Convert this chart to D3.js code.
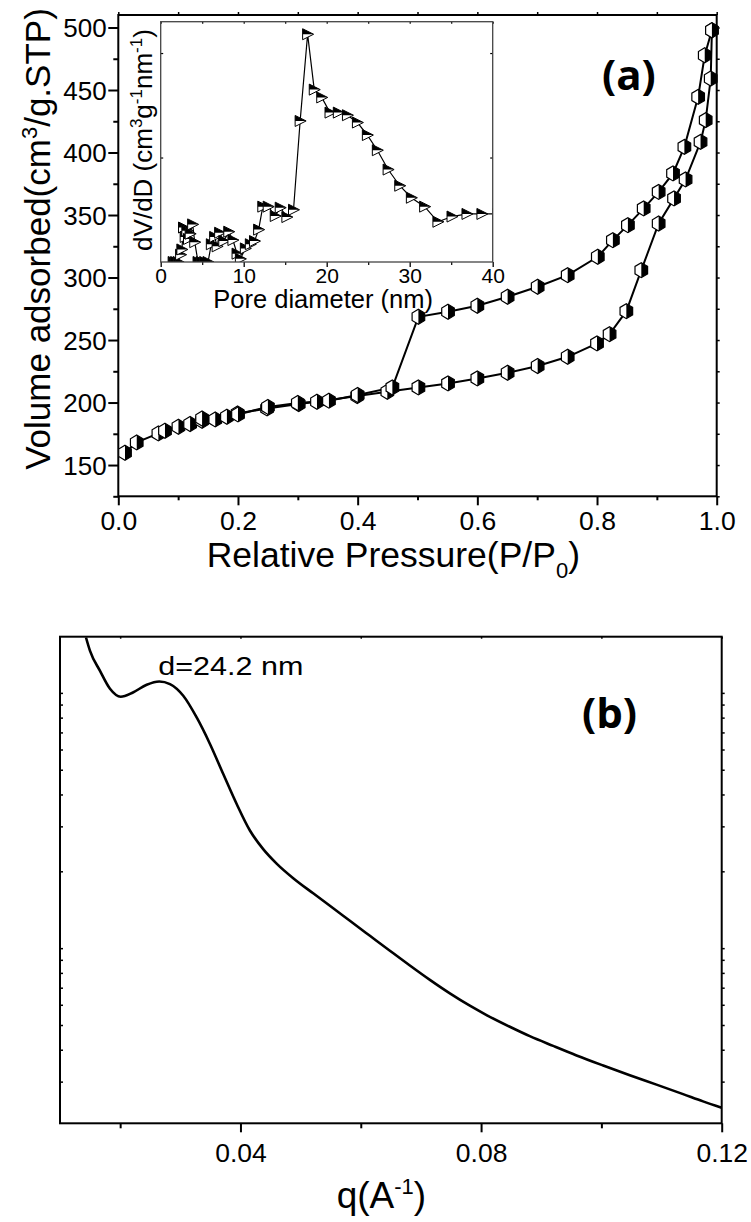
<!DOCTYPE html>
<html>
<head>
<meta charset="utf-8">
<script src="https://cdn.jsdelivr.net/npm/d3@7"></script>
<style>
  body { margin: 0; background: #fff; }
  text { font-family: "Liberation Sans", Arial, sans-serif; fill: #000; }
  .panel-tag { font-family: "Open Sans", sans-serif; font-weight: 700; }
</style>
</head>
<body>
<svg id="fig" width="751" height="1222"></svg>
<script>
// ---- N2 sorption isotherm: adsorption branch ----
const adsP = [0.0112, 0.0308, 0.067, 0.078, 0.1005, 0.12, 0.14, 0.162, 0.1815, 0.1994,
  0.2486, 0.3015, 0.332, 0.3993, 0.4496, 0.5015, 0.551, 0.600, 0.6506, 0.7008,
  0.751, 0.800, 0.821, 0.849, 0.874, 0.903, 0.9287, 0.948, 0.973, 0.9816, 0.990, 0.992];
const adsV = [159.8, 168.1, 175.3, 177.4, 180.6, 182.8, 185.4, 186.5, 188.6, 191.3,
  195.3, 198.8, 200.6, 205.2, 208.6, 212.1, 215.3, 219.3, 223.8, 229.2,
  236.6, 247.3, 254.7, 273.1, 305.9, 343.2, 363.3, 378.5, 408.5, 425.9, 459.2, 497.8];

// ---- desorption branch ----
const desP = [0.992, 0.980, 0.969, 0.946, 0.927, 0.903, 0.878, 0.8516, 0.8265, 0.8013,
  0.751, 0.7008, 0.6506, 0.600, 0.551, 0.5015, 0.458, 0.40, 0.352, 0.30, 0.25, 0.20, 0.14];
const desV = [497.8, 477.8, 444.5, 404.5, 383.3, 368.5, 355.3, 341.9, 329.9, 316.6,
  301.9, 292.6, 284.6, 277.4, 272.6, 268.6, 212.1, 206.0, 201.5, 199.6, 196.5, 190.5, 187.2];

// ---- pore size distribution (inset) ----
const poreD = [1.5, 1.8, 2.1, 2.4, 2.55, 2.75, 2.95, 3.15, 3.35, 3.55, 3.85, 4.1, 4.5, 4.9,
  5.3, 5.7, 6.1, 6.5, 6.8, 7.1, 7.6, 8.2, 8.7, 9.2, 9.6, 10.2, 10.8, 11.3, 11.8, 12.3,
  12.95, 13.8, 14.4, 15.2, 16.0, 16.8, 17.7, 18.5, 19.4, 20.4, 21.4, 22.5, 23.7, 24.9,
  26.1, 27.4, 28.8, 30.2, 31.8, 33.4, 35.1, 36.9, 38.7, 40.6];
const poreDV = [0, 0, 0, 0.07, 0.12, 0.33, 0.24, 0.30, 0.22, 0.27, 0.36, 0.19, 0, 0,
  0, 0, 0.17, 0.24, 0.15, 0.28, 0.20, 0.29, 0.21, 0.08, 0.03, 0.13, 0.17, 0.20, 0.31, 0.53,
  0.53, 0.44, 0.52, 0.43, 0.50, 1.35, 2.18, 1.65, 1.575, 1.43, 1.43, 1.405, 1.335, 1.215,
  1.07, 0.885, 0.73, 0.615, 0.53, 0.385, 0.435, 0.46, 0.46, 0.46];

// ---- SAXS profile ----
const qVals = [0.01432, 0.01499, 0.01665, 0.01831, 0.02009, 0.02213, 0.02441, 0.02650,
  0.02828, 0.03049, 0.03272, 0.03493, 0.03714, 0.03937, 0.04157, 0.04378, 0.04601,
  0.04877, 0.05209, 0.05542, 0.05819, 0.06152, 0.06484, 0.06816, 0.07149, 0.07481,
  0.07813, 0.08091, 0.08478, 0.08810, 0.09198, 0.09587, 0.1003, 0.10472, 0.10916,
  0.11358, 0.1169, 0.12];
const intensity = [164.8, 146.1, 122.0, 103.8, 96.6, 100.4, 107.6, 110.8,
  108.2, 97.4, 80.1, 63.1, 48.1, 36.7, 28.9, 24.44, 21.45,
  18.80, 16.40, 14.33, 12.80, 11.18, 9.77, 8.55, 7.51, 6.65,
  5.95, 5.47, 4.92, 4.52, 4.14, 3.80, 3.47, 3.18, 2.92,
  2.68, 2.51, 2.37];

// ---- tick values ----
const isoXTicks = [0, 0.2, 0.4, 0.6, 0.8, 1.0];
const isoXMinor = [0.1, 0.3, 0.5, 0.7, 0.9];
const isoYTicks = [150, 200, 250, 300, 350, 400, 450, 500];
const isoYMinor = [125, 175, 225, 275, 325, 375, 425, 475];
const poreXTicks = [0, 10, 20, 30, 40];
const poreXMinor = [5, 15, 25, 35];
const poreYTicks = [1, 2];
const saxsXTicks = [0.04, 0.08, 0.12];
const saxsXMinor = [0.02, 0.06, 0.10];
const saxsYTicks = [3, 4, 5, 6, 7, 8, 9, 10, 20, 30, 40, 50, 60, 70, 80, 90, 100];

const svg = d3.select("#fig");

// strip the domain path, set tick weight; unlabeled axes lose their empty texts
function styleAxis(g, width, labeled) {
  g.select(".domain").remove();
  g.selectAll(".tick line").attr("stroke", "#000").attr("stroke-width", width);
  if (!labeled) g.selectAll(".tick text").remove();
  return g;
}
function ticksOnly(axis, values, size) {
  return axis.tickValues(values).tickSize(size).tickFormat("");
}

const hexFull = "M0,-7.5L6.3,-3.7L6.3,3.7L0,7.5L-6.3,3.7L-6.3,-3.7Z";
const hexHalf = "M0,-7.5L6.3,-3.7L6.3,3.7L0,7.5Z";

// =============== panel (a) : isotherm ===============
const A = { l: 118.3, r: 716.7, t: 15, b: 496.3 };
const xA = d3.scaleLinear().domain([0, 1]).range([A.l, A.r]);
const yA = d3.scaleLinear().domain([125, 510]).range([A.b, A.t]);

styleAxis(svg.append("g").attr("transform", `translate(0,${A.b})`)
  .call(d3.axisBottom(xA).tickValues(isoXTicks).tickSize(9).tickFormat(d3.format(".1f"))), 2, true)
  .selectAll("text").attr("y", 33.5).attr("dy", 0).style("font-size", "26.5px");
styleAxis(svg.append("g").attr("transform", `translate(0,${A.b})`)
  .call(ticksOnly(d3.axisBottom(xA), isoXMinor, 4)), 2);
styleAxis(svg.append("g").attr("transform", `translate(0,${A.t})`)
  .call(ticksOnly(d3.axisTop(xA), isoXTicks.concat(isoXMinor), 3)), 1.5);
styleAxis(svg.append("g").attr("transform", `translate(${A.l},0)`)
  .call(d3.axisLeft(yA).tickValues(isoYTicks).tickSize(10)), 2, true)
  .selectAll("text").attr("x", -11.6).attr("dy", "0.35em").style("font-size", "26px");
styleAxis(svg.append("g").attr("transform", `translate(${A.l},0)`)
  .call(ticksOnly(d3.axisLeft(yA), isoYMinor, 5)), 2);
styleAxis(svg.append("g").attr("transform", `translate(${A.r},0)`)
  .call(ticksOnly(d3.axisRight(yA), isoYTicks.concat(isoYMinor), 3)), 1.5);

svg.append("rect").attr("x", A.l).attr("y", A.t).attr("width", A.r - A.l).attr("height", A.b - A.t)
  .attr("fill", "none").attr("stroke", "#000").attr("stroke-width", 2);

const xTitle = svg.append("text").attr("x", 206.7).attr("y", 567).style("font-size", "35.5px");
xTitle.append("tspan").text("Relative Pressure(P/P");
xTitle.append("tspan").attr("dy", 11).style("font-size", "22px").text("0");
xTitle.append("tspan").attr("dy", -11).text(")");

const yTitle = svg.append("text")
  .attr("transform", "translate(50,239) rotate(-90)")
  .attr("text-anchor", "middle").style("font-size", "35px");
yTitle.append("tspan").text("Volume adsorbed(cm");
yTitle.append("tspan").attr("dy", -13).style("font-size", "22px").text("3");
yTitle.append("tspan").attr("dy", 13).text("/g.STP)");

const lineA = d3.line().x(d => xA(d[0])).y(d => yA(d[1]));
const adsPts = adsP.map((p, i) => [p, adsV[i]]);
const desPts = desP.map((p, i) => [p, desV[i]]);
svg.append("path").attr("d", lineA(adsPts)).attr("fill", "none")
  .attr("stroke", "#000").attr("stroke-width", 2);
svg.append("path").attr("d", lineA(desPts)).attr("fill", "none")
  .attr("stroke", "#000").attr("stroke-width", 2);

function drawHex(pts) {
  const g = svg.append("g");
  const m = g.selectAll("g").data(pts).join("g")
    .attr("transform", d => `translate(${xA(d[0])},${yA(d[1])})`);
  m.append("path").attr("d", hexFull).attr("fill", "#fff");
  m.append("path").attr("d", hexHalf).attr("fill", "#000");
  m.append("path").attr("d", hexFull).attr("fill", "none").attr("stroke", "#000").attr("stroke-width", 1.2);
}
drawHex(adsPts);
drawHex(desPts);

svg.append("text").attr("class", "panel-tag").attr("x", 602).attr("y", 90)
  .style("font-size", "42px").text("(a)");

// =============== inset : pore size distribution ===============
const I = { l: 160.7, r: 492.7, t: 21.7, b: 262 };
const xI = d3.scaleLinear().domain([0, 40]).range([I.l, I.r]);
const yI = d3.scaleLinear().domain([0, 2.3]).range([I.b, I.t]);

svg.append("rect").attr("x", I.l).attr("y", I.t).attr("width", I.r - I.l).attr("height", I.b - I.t)
  .attr("fill", "#fff");

svg.append("clipPath").attr("id", "insetClip").append("rect")
  .attr("x", I.l).attr("y", I.t).attr("width", I.r - I.l).attr("height", I.b - I.t);

const inset = svg.append("g").attr("clip-path", "url(#insetClip)");
const porePts = poreD.map((d, i) => [d, poreDV[i]]);
inset.append("path")
  .attr("d", d3.line().x(d => xI(d[0])).y(d => yI(d[1]))(porePts))
  .attr("fill", "none").attr("stroke", "#000").attr("stroke-width", 1.2);
const tri = inset.selectAll("g.tri").data(porePts).join("g").attr("class", "tri")
  .attr("transform", d => `translate(${xI(d[0])},${yI(d[1])})`);
tri.append("path").attr("d", "M-5,-5.5L6,0L-5,5.5Z").attr("fill", "#fff");
tri.append("path").attr("d", "M-5,-5.5L6,0L-5,0Z").attr("fill", "#000");
tri.append("path").attr("d", "M-5,-5.5L6,0L-5,5.5Z").attr("fill", "none")
  .attr("stroke", "#000").attr("stroke-width", 1);

styleAxis(svg.append("g").attr("transform", `translate(0,${I.b})`)
  .call(d3.axisBottom(xI).tickValues(poreXTicks).tickSize(5)), 1.3, true)
  .selectAll("text").attr("y", 21.3).attr("dy", 0).style("font-size", "21px");
styleAxis(svg.append("g").attr("transform", `translate(0,${I.b})`)
  .call(ticksOnly(d3.axisBottom(xI), poreXMinor, 3)), 1.2);
styleAxis(svg.append("g").attr("transform", `translate(0,${I.t})`)
  .call(ticksOnly(d3.axisBottom(xI), poreXTicks.concat(poreXMinor), 2)), 1.2);
styleAxis(svg.append("g").attr("transform", `translate(${I.l},0)`)
  .call(ticksOnly(d3.axisRight(yI), poreYTicks, 2.5)), 1.2);
styleAxis(svg.append("g").attr("transform", `translate(${I.r},0)`)
  .call(ticksOnly(d3.axisLeft(yI), poreYTicks, 2.5)), 1.2);

svg.append("rect").attr("x", I.l).attr("y", I.t).attr("width", I.r - I.l).attr("height", I.b - I.t)
  .attr("fill", "none").attr("stroke", "#444").attr("stroke-width", 1.3);

svg.append("text").attr("x", 213.3).attr("y", 308.3).style("font-size", "25.5px")
  .text("Pore diameter (nm)");

const iyTitle = svg.append("text")
  .attr("transform", "translate(152,140) rotate(-90)")
  .attr("text-anchor", "middle").style("font-size", "26px");
iyTitle.append("tspan").text("dV/dD (cm");
iyTitle.append("tspan").attr("dy", -10).style("font-size", "17px").text("3");
iyTitle.append("tspan").attr("dy", 10).text("g");
iyTitle.append("tspan").attr("dy", -10).style("font-size", "17px").text("-1");
iyTitle.append("tspan").attr("dy", 10).text("nm");
iyTitle.append("tspan").attr("dy", -10).style("font-size", "17px").text("-1");
iyTitle.append("tspan").attr("dy", 10).text(")");

// =============== panel (b) : SAXS ===============
const B = { l: 60, r: 721.7, t: 636.7, b: 1123.3 };
const xB = d3.scaleLinear().domain([0.01, 0.12]).range([B.l, B.r]);
const yB = d3.scaleLog().domain([2.06, 166]).range([B.b, B.t]);

svg.append("clipPath").attr("id", "saxsClip").append("rect")
  .attr("x", B.l).attr("y", B.t).attr("width", B.r - B.l).attr("height", B.b - B.t);

svg.append("g").attr("clip-path", "url(#saxsClip)").append("path")
  .attr("d", d3.line().curve(d3.curveMonotoneX)
    .x((d, i) => xB(qVals[i])).y((d, i) => yB(intensity[i]))(qVals))
  .attr("fill", "none").attr("stroke", "#000").attr("stroke-width", 2.6)
  .attr("stroke-linejoin", "round");

styleAxis(svg.append("g").attr("transform", `translate(0,${B.b})`)
  .call(d3.axisBottom(xB).tickValues(saxsXTicks).tickSize(9).tickFormat(d3.format(".2f"))), 2, true)
  .selectAll("text").attr("y", 39).attr("dy", 0).style("font-size", "26.5px");
styleAxis(svg.append("g").attr("transform", `translate(0,${B.b})`)
  .call(ticksOnly(d3.axisBottom(xB), saxsXMinor, 5)), 2);
styleAxis(svg.append("g").attr("transform", `translate(0,${B.t})`)
  .call(ticksOnly(d3.axisBottom(xB), saxsXTicks.concat(saxsXMinor), 2)), 1.5);
styleAxis(svg.append("g").attr("transform", `translate(${B.l},0)`)
  .call(ticksOnly(d3.axisRight(yB), saxsYTicks, 3)), 1.5);
styleAxis(svg.append("g").attr("transform", `translate(${B.r},0)`)
  .call(ticksOnly(d3.axisRight(yB), saxsYTicks, 3)), 1.5);

svg.append("rect").attr("x", B.l).attr("y", B.t).attr("width", B.r - B.l).attr("height", B.b - B.t)
  .attr("fill", "none").attr("stroke", "#000").attr("stroke-width", 2);

svg.append("text").attr("x", 158.3).attr("y", 675).style("font-size", "26px")
  .attr("textLength", 145).attr("lengthAdjust", "spacingAndGlyphs").text("d=24.2 nm");

svg.append("text").attr("class", "panel-tag").attr("x", 582).attr("y", 728)
  .style("font-size", "42px").text("(b)");

const qTitle = svg.append("text").attr("x", 336.7).attr("y", 1208).style("font-size", "37px");
qTitle.append("tspan").text("q(A");
qTitle.append("tspan").attr("dy", -14).style("font-size", "22px").text("-1");
qTitle.append("tspan").attr("dy", 14).text(")");
</script>
</body>
</html>
